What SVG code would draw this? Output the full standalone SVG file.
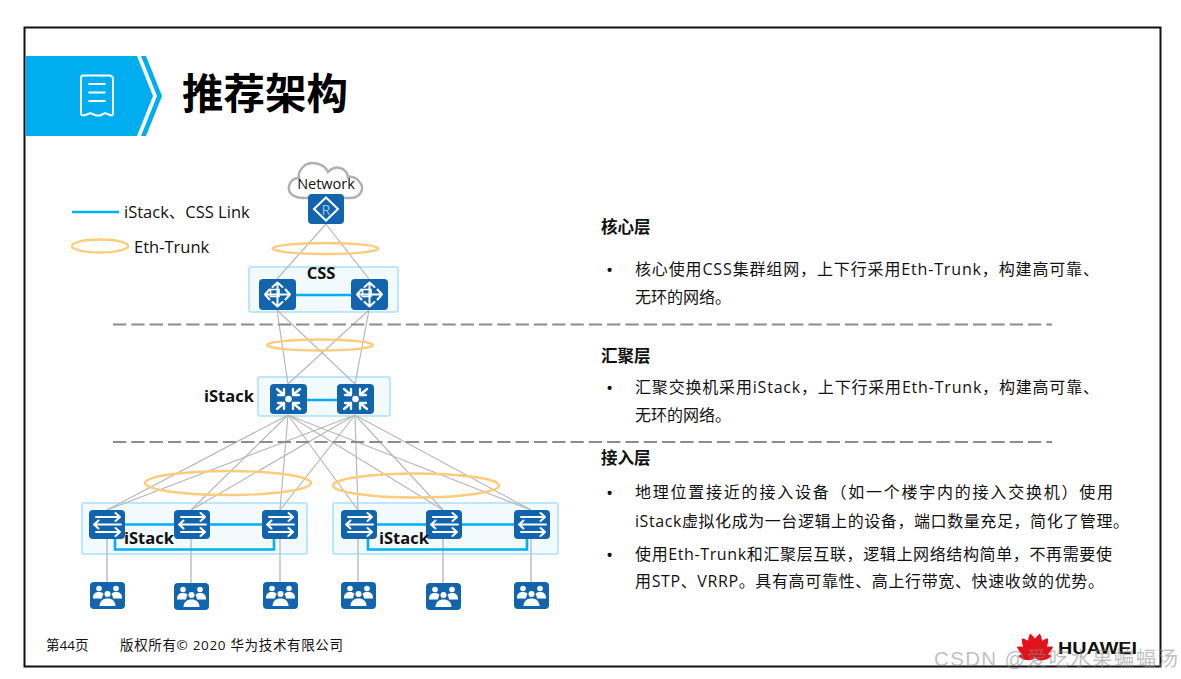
<svg xmlns="http://www.w3.org/2000/svg" xmlns:xlink="http://www.w3.org/1999/xlink" width="1181" height="679" viewBox="0 0 1181 679">
<style>
text{font-family:"Open Sans","Noto Sans CJK SC",sans-serif;fill:#111}
.h{font-size:16.500px;font-weight:700}
.b{font-size:16px}
.u{font-size:19px}
.bl{font-weight:700;font-size:16.500px}
.f{font-size:13.500px}
.box{fill:#f3fafe;stroke:#a8e1fa;stroke-width:1.500}
.ic{fill:#1264ac}
.w{fill:none;stroke:#fff;stroke-width:2;stroke-linecap:round;stroke-linejoin:round}
.wf{fill:#fff}
.g{stroke:#b8b8b8;stroke-width:1.200;fill:none}
.d{stroke:#c2c2c2;stroke-width:1.600;fill:none}
.k{stroke:#00b0f0;stroke-width:2.600;fill:none}
.e{fill:none;stroke:#fdcb7c;stroke-width:2.400}
.da{stroke:#8c8c8c;stroke-width:2;stroke-dasharray:13.300 5}
</style>
<defs>
<g id="core"><rect class="ic" width="37" height="31" rx="4"/>
<path class="w" d="M18.500 3.500V27.500M6 15.500H31M13.500 8L18.500 3.500L23.500 8M13.500 23L18.500 27.500L23.500 23M10.500 10.500L6 15.500L10.500 20.500M26.500 10.500L31 15.500L26.500 20.500"/>
<path d="M11.500 10.500H20V17.500H11.500Z" fill="none" stroke="#fff" stroke-width="1.600"/></g>
<g id="agg"><rect class="ic" width="37" height="30" rx="4"/>
<circle class="wf" cx="18.500" cy="15" r="3.300"/>
<path class="w" style="stroke-width:2.300" d="M7 5L13.500 10.500M14 5V11H8M30 5L23.500 10.500M23 5V11H29M7 25L13.500 19.500M14 25V19H8M30 25L23.500 19.500M23 25V19H29"/></g>
<g id="acc"><rect class="ic" width="36" height="29" rx="4"/>
<path class="w" d="M7 7H31M26.500 3L31 7L26.500 11M5 14.500H32M9.500 10.500L5 14.500L9.500 18.500M7 22H31M26.500 18L31 22L26.500 26"/></g>
<g id="usr"><rect class="ic" width="35" height="27" rx="4"/>
<g class="wf"><circle cx="9" cy="6.500" r="2.800"/><circle cx="26" cy="6.500" r="2.800"/><circle cx="17.500" cy="12" r="3"/>
<path d="M3 16C3 11 6 10 9 10C11 10 12.500 10.500 13.500 12C12.500 14 12 15 12 16.500H3Z"/>
<path d="M32 16C32 11 29 10 26 10C24 10 22.500 10.500 21.500 12C22.500 14 23 15 23 16.500H32Z"/>
<path d="M9.500 24C9.500 19 13 16.500 17.500 16.500C22 16.500 25.500 19 25.500 24Z"/></g></g>
<path id="petal" d="M0 0C-6 -5 -7.500 -16 -1.500 -25C6 -18 6.500 -7 0 0Z" fill="#e2111b"/>
</defs>

<rect x="24.500" y="27.500" width="1136" height="639" fill="#fff" stroke="#111" stroke-width="2"/>
<g id="header">
<path d="M25.500 56H137L153 96L137 136H25.500Z" fill="#00aeef"/>
<path d="M141 56H146L162 96L146 136H141L157 96Z" fill="#00aeef"/>
<path d="M83 75.500H108.500Q113 75.500 113 79V113.500Q113 116 110 115L105 113L100 115.500L96 115.500L90.500 113L85.500 115Q81 116 81 113.500V78Q81 75.500 83 75.500Z" fill="none" stroke="#fff" stroke-width="2"/>
<path d="M88.500 84H105.500M88.500 92.500H105.500M88.500 101H105.500" stroke="#fff" stroke-width="2"/>
<text x="182" y="109" style="font-size:41.500px;font-weight:700;fill:#000">推荐架构</text>
</g>

<g id="legend">
<line class="k" x1="72" y1="212" x2="119" y2="212"/>
<text x="124" y="218" style="font-size:16.500px">iStack、CSS Link</text>
<ellipse class="e" cx="100" cy="246" rx="28" ry="6.500"/>
<text x="134" y="253" style="font-size:16.500px">Eth-Trunk</text>
</g>

<g id="zones">
<rect class="box" x="249" y="267" width="149" height="45" rx="2"/>
<rect class="box" x="258" y="377" width="132" height="39" rx="2"/>
<rect class="box" x="82" y="503" width="225" height="51" rx="2"/>
<rect class="box" x="333" y="503" width="225" height="51" rx="2"/>
</g>

<g id="connectors">
<path class="g" d="M326 224L277 279M326 224L369 279"/>
<path class="g" d="M277 310L288 384M277 310L355 384M369 310L288 384M369 310L355 384"/>
<path class="g" d="M288 415L107 510M288 415L191 510M288 415L280 510M288 415L358 510M288 415L443 510M288 415L531 510"/>
<path class="g" d="M355 415L107 510M355 415L191 510M355 415L280 510M355 415L358 510M355 415L443 510M355 415L531 510"/>
<path class="d" d="M107 539V582M191 539V583M280 539V582M358 539V582M443 539V583M531 539V582"/>
<path class="k" d="M296 295H351M307 400H337"/>
<path class="k" d="M125 524.500H262M115 539V549.500H274V539"/>
<path class="k" d="M377 524.500H514M368 539V549.500H527V539"/>
</g>

<g id="dividers">
<line class="da" x1="113" y1="324.500" x2="1052" y2="324.500"/>
<line class="da" x1="113" y1="442" x2="1052" y2="442"/>
</g>

<g id="trunks">
<ellipse class="e" cx="325.500" cy="248.500" rx="53" ry="5.500"/>
<ellipse class="e" cx="320" cy="345" rx="53" ry="5.500"/>
<ellipse class="e" cx="228" cy="483" rx="83" ry="12"/>
<ellipse class="e" cx="416" cy="485.500" rx="83" ry="12"/>
</g>

<g id="network">
<path d="M303 198H350C360 198 364 190 361 184C358 178 352 176 348 177C347 170 340 166 334 168C331 169 329 171 328 172C324 163 310 160 303 167C299 171 298 175 299 178C292 178 288 184 289 190C290 195 296 198 303 198Z" fill="#fff" stroke="#b0b0b0" stroke-width="2.400"/>
<text x="326" y="189" text-anchor="middle" style="font-size:14.500px">Network</text>
</g>
<g id="router" transform="translate(308 194)"><rect class="ic" width="36" height="30" rx="4"/>
<path d="M18 3.500L30 15L18 26.500L6 15Z" fill="none" stroke="#fff" stroke-width="2"/>
<text x="18" y="20.500" text-anchor="middle" style="font-size:14.500px;fill:#9cc3e4">R</text></g>
<use id="core1" href="#core" x="259" y="279"/>
<use id="core2" href="#core" x="351" y="279"/>
<use id="agg1" href="#agg" x="270" y="384"/>
<use id="agg2" href="#agg" x="337" y="384"/>
<use id="acc1" href="#acc" x="89" y="510"/>
<use id="acc2" href="#acc" x="174" y="510"/>
<use id="acc3" href="#acc" x="262" y="510"/>
<use id="acc4" href="#acc" x="341" y="510"/>
<use id="acc5" href="#acc" x="426" y="510"/>
<use id="acc6" href="#acc" x="514" y="510"/>
<use id="usr1" href="#usr" x="90" y="582"/>
<use id="usr2" href="#usr" x="174" y="583"/>
<use id="usr3" href="#usr" x="263" y="582"/>
<use id="usr4" href="#usr" x="341" y="582"/>
<use id="usr5" href="#usr" x="426" y="583"/>
<use id="usr6" href="#usr" x="514" y="582"/>

<g id="labels">
<text class="bl" x="321" y="279" text-anchor="middle">CSS</text>
<text class="bl" x="204" y="402">iStack</text>
<text class="bl" x="124" y="544">iStack</text>
<text class="bl" x="379" y="544">iStack</text>
</g>

<g id="desc">
<text class="h" x="601" y="233">核心层</text>
<text class="u" x="606" y="277">•</text>
<text class="b" x="635" y="275" textLength="464">核心使用CSS集群组网，上下行采用Eth-Trunk，构建高可靠、</text>
<text class="b" x="635" y="303">无环的网络。</text>
<text class="h" x="601" y="362">汇聚层</text>
<text class="u" x="606" y="395">•</text>
<text class="b" x="635" y="393" textLength="464">汇聚交换机采用iStack，上下行采用Eth-Trunk，构建高可靠、</text>
<text class="b" x="635" y="421">无环的网络。</text>
<text class="h" x="601" y="464">接入层</text>
<text class="u" x="606" y="500">•</text>
<text class="b" x="635" y="498" textLength="478">地理位置接近的接入设备（如一个楼宇内的接入交换机）使用</text>
<text class="b" x="635" y="527" textLength="494">iStack虚拟化成为一台逻辑上的设备，端口数量充足，简化了管理。</text>
<text class="u" x="606" y="562">•</text>
<text class="b" x="635" y="560" textLength="477">使用Eth-Trunk和汇聚层互联，逻辑上网络结构简单，不再需要使</text>
<text class="b" x="635" y="587" textLength="469">用STP、VRRP。具有高可靠性、高上行带宽、快速收敛的优势。</text>
</g>

<g id="footer">
<text class="f" x="46" y="650">第44页</text>
<text class="f" x="120" y="650" textLength="223">版权所有© 2020 华为技术有限公司</text>
</g>
<g id="logo">
<g transform="translate(1035 658)">
<use href="#petal" transform="rotate(-80) scale(.68)"/>
<use href="#petal" transform="rotate(-55) scale(.85)"/>
<use href="#petal" transform="rotate(-30) scale(.95)"/>
<use href="#petal" transform="rotate(-8)"/>
<use href="#petal" transform="rotate(8) scale(-1 1)"/>
<use href="#petal" transform="rotate(30) scale(-.95 .95)"/>
<use href="#petal" transform="rotate(55) scale(-.85 .85)"/>
<use href="#petal" transform="rotate(80) scale(-.68 .68)"/>
</g>
<text x="1058" y="654" textLength="79" lengthAdjust="spacingAndGlyphs" style="font-family:'Liberation Sans',sans-serif;font-size:16.500px;font-weight:700;fill:#111">HUAWEI</text>
</g>
<text id="watermark" x="934" y="666" textLength="244" style="font-family:'Liberation Sans','Noto Sans CJK SC',sans-serif;font-size:20.500px;fill:#8a8a8a;fill-opacity:.55">CSDN @爱吃水果蝙蝠汤</text>
</svg>
